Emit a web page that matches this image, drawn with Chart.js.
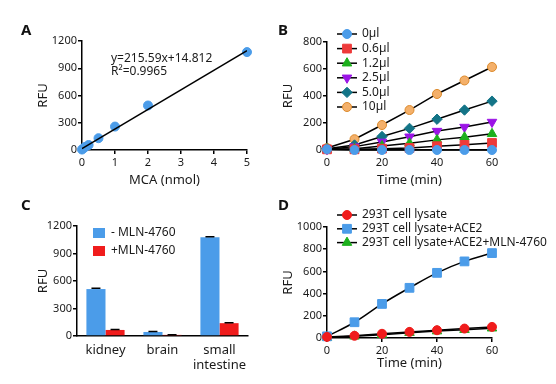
<!DOCTYPE html>
<html>
<head>
<meta charset="utf-8">
<script src="https://cdn.jsdelivr.net/npm/chart.js@4.4.0/dist/chart.umd.min.js"></script>
<style>
  body { margin: 0; background: #fff; }
  #wrap { position: relative; width: 556px; height: 384px; }
  canvas { position: absolute; }
  .tag { position: absolute; font: bold 15px 'Noto Sans', sans-serif; color: #111; line-height: 1; }
</style>
</head>
<body>
<div id="wrap">
  <canvas id="cA" width="278" height="192" style="left:0;top:0"></canvas>
  <canvas id="cB" width="278" height="192" style="left:278px;top:0"></canvas>
  <canvas id="cC" width="278" height="192" style="left:0;top:192px"></canvas>
  <canvas id="cD" width="278" height="192" style="left:278px;top:192px"></canvas>
  <div class="tag" style="left:21px;top:22px">A</div>
  <div class="tag" style="left:278px;top:22px">B</div>
  <div class="tag" style="left:21px;top:197px">C</div>
  <div class="tag" style="left:278px;top:197px">D</div>
</div>
<script>
// panel A - standard curve
const mcaNmol = [0, 0.05, 0.1, 0.2, 0.5, 1, 2, 5];
const mcaRFU = [5, 20, 35, 55, 130, 258, 490, 1078];
const fitNmol = [0, 5];
const fitRFU = [14.8, 1092.8];

// panel B - enzyme amount
const timeMin = [0, 10, 20, 30, 40, 50, 60];
const rfu0ul = [5, 0, 0, 0, 0, 0, 0];
const rfu06ul = [5, 5, 10, 15, 28, 38, 52];
const rfu12ul = [5, 10, 30, 50, 75, 95, 120];
const rfu25ul = [5, 25, 60, 98, 140, 170, 207];
const rfu50ul = [10, 37, 100, 160, 228, 296, 362];
const rfu10ul = [15, 80, 185, 296, 415, 515, 615];

// panel C - tissues
const tissues = ['kidney', 'brain', ['small', 'intestine']];
const noInhib = [512, 44, 1078];
const noInhibErr = [10, 5, 5];
const withInhib = [66, 12, 140];
const withInhibErr = [4, 2, 4];

// panel D - 293T lysate
const lysate = [10, 20, 38, 55, 70, 85, 100];
const lysateAce2 = [15, 142, 307, 452, 587, 690, 765];
const lysateAce2Inhib = [5, 15, 30, 48, 62, 75, 88];

const FONT = "'Noto Sans', sans-serif";
const INK = '#1a1a1a';

function pts(xs, ys) { return xs.map((x, i) => ({ x: x, y: ys[i] })); }

function axis(extra, box, h, isX) {
  const base = {
    border: { display: true, color: '#000', width: 1.5 },
    grid: { drawOnChartArea: false, color: '#000', tickLength: 4, lineWidth: 1.5 },
    ticks: { color: INK, font: { family: FONT, size: 11 }, padding: isX ? 2 : 1, format: { useGrouping: false } },
    title: { display: true, color: INK, font: { family: FONT, size: 13 } },
    afterFit: isX ? (s => { s.height = h - box[3]; }) : (s => { s.width = box[0]; })
  };
  return Chart.helpers.merge(base, extra);
}

function baseOptions(box, w, h, xs, ys, extraPlugins) {
  return {
    responsive: false,
    animation: false,
    events: [],
    layout: { padding: { left: 0, top: box[1], right: w - box[2], bottom: 0 } },
    scales: { x: axis(xs, box, h, true), y: axis(ys, box, h, false) },
    plugins: Object.assign({ legend: { display: false }, tooltip: { enabled: false } }, extraPlugins || {})
  };
}

const lineLegend = {
  id: 'lineLegend',
  afterDraw(chart, args, o) {
    const ctx = chart.ctx;
    ctx.save();
    ctx.font = '12px ' + FONT;
    ctx.textBaseline = 'middle';
    chart.data.datasets.forEach((ds, i) => {
      const y = o.y + i * o.dy;
      ctx.strokeStyle = '#000';
      ctx.lineWidth = 1.5;
      ctx.beginPath();
      ctx.moveTo(o.x, y);
      ctx.lineTo(o.x + o.len, y);
      ctx.stroke();
      ctx.fillStyle = ds.pointBackgroundColor;
      ctx.strokeStyle = ds.pointBorderColor;
      ctx.lineWidth = 1;
      Chart.helpers.drawPoint(ctx, {
        pointStyle: ds.pointStyle, radius: ds.pointRadius,
        rotation: ds.pointRotation || 0, borderWidth: 1
      }, o.x + o.len / 2, y);
      ctx.fillStyle = INK;
      ctx.fillText(ds.label, o.x + o.len + 5, y);
    });
    ctx.restore();
  }
};

const notes = {
  id: 'notes',
  afterDraw(chart, args, o) {
    const ctx = chart.ctx;
    ctx.save();
    ctx.font = '12px ' + FONT;
    ctx.fillStyle = INK;
    ctx.textBaseline = 'middle';
    o.lines.forEach((t, i) => ctx.fillText(t, o.x, o.y + i * o.dy));
    ctx.restore();
  }
};

const errorBars = {
  id: 'errorBars',
  afterDatasetsDraw(chart) {
    const ctx = chart.ctx, ys = chart.scales.y;
    ctx.save();
    ctx.strokeStyle = '#000';
    ctx.lineWidth = 1.5;
    chart.data.datasets.forEach((ds, i) => {
      chart.getDatasetMeta(i).data.forEach((bar, j) => {
        const top = ys.getPixelForValue(ds.data[j] + ds.errors[j]);
        ctx.beginPath();
        ctx.moveTo(bar.x, bar.y);
        ctx.lineTo(bar.x, top);
        ctx.moveTo(bar.x - 4.5, top);
        ctx.lineTo(bar.x + 4.5, top);
        ctx.stroke();
      });
    });
    ctx.restore();
  }
};

const boxLegend = {
  id: 'boxLegend',
  afterDraw(chart, args, o) {
    const ctx = chart.ctx;
    ctx.save();
    ctx.font = '12px ' + FONT;
    ctx.textBaseline = 'middle';
    chart.data.datasets.forEach((ds, i) => {
      const y = o.y + i * o.dy;
      ctx.fillStyle = ds.backgroundColor;
      ctx.fillRect(o.x, y - 5, 12, 10);
      ctx.fillStyle = INK;
      ctx.fillText(ds.label, o.x + 18, y);
    });
    ctx.restore();
  }
};

// ---- A
const boxA = [82, 41, 247, 150];
new Chart(document.getElementById('cA'), {
  type: 'scatter',
  data: {
    datasets: [
      { data: pts(fitNmol, fitRFU), showLine: true, borderColor: '#000', borderWidth: 1.5, pointRadius: 0, order: 0 },
      { data: pts(mcaNmol, mcaRFU), pointRadius: 4.5, pointBackgroundColor: '#4b9ce9', pointBorderColor: '#4b9ce9', order: 1, clip: false }
    ]
  },
  options: baseOptions(boxA, 278, 192,
    { min: 0, max: 5, ticks: { stepSize: 1 }, title: { text: 'MCA (nmol)', padding: { bottom: 4 } } },
    { min: 0, max: 1200, ticks: { stepSize: 300 }, title: { text: 'RFU', padding: { top: 35 } } },
    { notes: { x: 111, y: 59, dy: 13, lines: ['y=215.59x+14.812', 'R\u00b2=0.9965'] } }),
  plugins: [notes]
});

// ---- B
const boxB = [49, 42, 214, 150];
function seriesB(label, values, color, border, style, radius, rot) {
  return {
    label: label, data: values, borderColor: '#000', borderWidth: 1.5, tension: 0,
    pointStyle: style, pointRadius: radius, pointRotation: rot || 0,
    pointBackgroundColor: color, pointBorderColor: border, pointBorderWidth: 1, clip: false
  };
}
new Chart(document.getElementById('cB'), {
  type: 'line',
  data: {
    labels: timeMin,
    datasets: [
      seriesB('0\u00b5l', pts(timeMin, rfu0ul), '#4b9ce9', '#4b9ce9', 'circle', 4.5),
      seriesB('0.6\u00b5l', pts(timeMin, rfu06ul), '#ee3a3a', '#ee3a3a', 'rect', 6.2),
      seriesB('1.2\u00b5l', pts(timeMin, rfu12ul), '#1db01d', '#1db01d', 'triangle', 5.5),
      seriesB('2.5\u00b5l', pts(timeMin, rfu25ul), '#9b14e6', '#9b14e6', 'triangle', 5.5, 180),
      seriesB('5.0\u00b5l', pts(timeMin, rfu50ul), '#137487', '#137487', 'rectRot', 5.2),
      seriesB('10\u00b5l', pts(timeMin, rfu10ul), '#f4b06a', '#dc8a2c', 'circle', 4.5)
    ]
  },
  options: baseOptions(boxB, 278, 192,
    { type: 'linear', min: 0, max: 60, ticks: { stepSize: 20 }, title: { text: 'Time (min)', padding: { bottom: 4 } } },
    { min: 0, max: 800, ticks: { stepSize: 200 }, title: { text: 'RFU', padding: { top: 2 } } },
    { lineLegend: { x: 59, y: 34, dy: 14.6, len: 20 } }),
  plugins: [lineLegend]
});

// ---- C
const boxC = [77, 34, 248, 144];
new Chart(document.getElementById('cC'), {
  type: 'bar',
  data: {
    labels: tissues,
    datasets: [
      { label: '- MLN-4760', data: noInhib, errors: noInhibErr, backgroundColor: '#4b9ce9', barPercentage: 1, categoryPercentage: 0.67 },
      { label: '+MLN-4760', data: withInhib, errors: withInhibErr, backgroundColor: '#f01c1c', barPercentage: 1, categoryPercentage: 0.67 }
    ]
  },
  options: baseOptions(boxC, 278, 192,
    { grid: { display: false, drawTicks: false }, ticks: { font: { size: 13 }, padding: 6, maxRotation: 0, minRotation: 0, autoSkip: false }, title: { display: false } },
    { min: 0, max: 1200, ticks: { stepSize: 300 }, title: { text: 'RFU', padding: { top: 35 } } },
    { boxLegend: { x: 93, y: 41, dy: 18 } }),
  plugins: [errorBars, boxLegend]
});

// ---- D
const boxD = [49, 35, 214, 146];
new Chart(document.getElementById('cD'), {
  type: 'line',
  data: {
    datasets: [
      seriesB('293T cell lysate', pts(timeMin, lysate), '#f01c1c', '#f01c1c', 'circle', 4.5),
      Object.assign(seriesB('293T cell lysate+ACE2', pts(timeMin, lysateAce2), '#4b9ce9', '#4b9ce9', 'rect', 6.2), { tension: 0.4 }),
      seriesB('293T cell lysate+ACE2+MLN-4760', pts(timeMin, lysateAce2Inhib), '#1db01d', '#1db01d', 'triangle', 5.5)
    ]
  },
  options: baseOptions(boxD, 278, 192,
    { type: 'linear', min: 0, max: 60, ticks: { stepSize: 20 }, title: { text: 'Time (min)', padding: { bottom: 13 } } },
    { min: 0, max: 1000, ticks: { stepSize: 200 }, title: { text: 'RFU', padding: { top: 2 } } },
    { lineLegend: { x: 59, y: 23, dy: 13.8, len: 20 } }),
  plugins: [lineLegend]
});
</script>
</body>
</html>
